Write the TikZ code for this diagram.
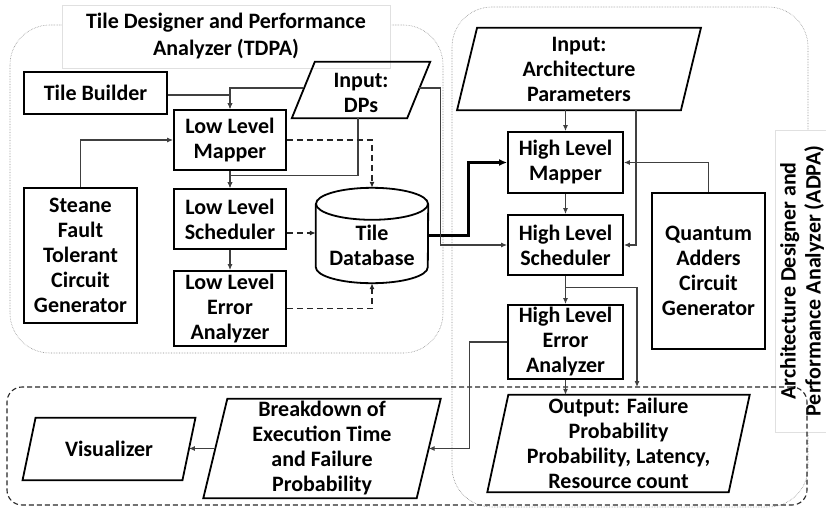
\documentclass[tikz,border=0pt]{standalone}
\usepackage{fontspec}
\setmainfont{Carlito}
\usetikzlibrary{arrows.meta,calc}

% outline of an input/output block drawn around a (borderless) rectangular node
\newcommand\slantbox[2]{%
  \draw[boxline] ($(#1.south west)+(-#2,0)$) -- ($(#1.north west)+(#2,0)$)
    -- ($(#1.north east)+(#2,0)$) -- ($(#1.south east)+(-#2,0)$) -- cycle;}

\begin{document}
\begin{tikzpicture}[x=1pt,y=-1pt,
  txt/.style={align=center, inner sep=0pt, font=\fontsize{22}{25}\selectfont\bfseries},
  box/.style={txt, draw=black, line width=1.8pt, fill=white},
  slanted/.style={txt, draw=none},
  boxline/.style={draw=black, line width=1.8pt, line join=miter},
  conn/.style={draw=black!75, line width=1.1pt, -{Latex[length=6pt,width=5pt]}},
  dconn/.style={conn, draw=black!85, line width=1.6pt, dash pattern=on 6pt off 4pt},
  bigconn/.style={draw=black, line width=2.6pt, -{Latex[length=8pt,width=7pt]}},
  group/.style={draw=black!45, line width=0.6pt, densely dotted, rounded corners=40pt},
  titlebox/.style={txt, draw=black!12, line width=0.6pt, fill=white}]

\useasboundingbox (0,0) rectangle (826,511);

% ---------- group outlines ----------
\draw[group] (10,25) rectangle (443,353);
\draw[group] (452,7) rectangle (808,507);

\node[titlebox, font=\fontsize{22}{27}\selectfont\bfseries,
      minimum width=328pt, minimum height=63pt] (tdpa) at (226,36.5)
  {Tile Designer and Performance\\Analyzer (TDPA)};
\node[titlebox, rotate=90, minimum width=302pt, minimum height=53pt] (adpa) at (802,281)
  {Architecture Designer and\\Performance Analyzer (ADPA)};

\node[draw=black!85, line width=1.1pt, dash pattern=on 5pt off 3pt, rounded corners=15pt,
      minimum width=800pt, minimum height=118pt, inner sep=0pt] (results) at (407,446) {};

% ---------- tile designer ----------
\node[box, minimum width=143pt, minimum height=42pt] (tb) at (95.5,93) {Tile Builder};
\node[slanted, minimum width=115pt, minimum height=56pt] (dps) at (361,90) {};
\node[txt] (dpslabel) at (361,93) {Input:\\DPs};
\slantbox{dps}{11.5}
\node[box, minimum width=112pt, minimum height=60pt] (llmap) at (230,140) {Low Level\\Mapper};
\node[box, minimum width=112pt, minimum height=60pt] (llsched) at (230,219) {Low Level\\Scheduler};
\node[box, minimum width=112pt, minimum height=75pt] (llerr) at (230,308.5) {Low Level\\Error\\Analyzer};
\node[box, minimum width=113pt, minimum height=135pt] (steane) at (80.5,255.5)
  {Steane\\Fault\\Tolerant\\Circuit\\Generator};

% tile database (cylinder)
\node[minimum width=112pt, minimum height=95pt, inner sep=0pt] (db) at (372,235.5) {};
\draw[boxline] ($(db.north)+(0,16)$) ellipse [x radius=56pt, y radius=16pt];
\draw[boxline] ($(db.north west)+(0,16)$) -- ($(db.south west)+(0,-16)$)
  arc[start angle=180, end angle=360, x radius=56pt, y radius=16pt]
  -- ($(db.north east)+(0,16)$);
\node[txt] (dblabel) at (372,245) {Tile\\Database};

% ---------- architecture designer ----------
\node[slanted, minimum width=223.5pt, minimum height=82pt] (arch) at (579,69)
  {Input:\\Architecture\\Parameters};
\slantbox{arch}{10}
\node[box, minimum width=115pt, minimum height=61pt] (hlmap) at (565.5,162.5) {High Level\\Mapper};
\node[box, minimum width=115pt, minimum height=60pt] (hlsched) at (565.5,245) {High Level\\Scheduler};
\node[box, minimum width=115pt, minimum height=74pt] (hlerr) at (565.5,342) {High Level\\Error\\Analyzer};
\node[box, minimum width=113pt, minimum height=156pt] (quantum) at (708.5,271)
  {Quantum\\Adders\\Circuit\\Generator};

% ---------- results ----------
\node[slanted, minimum width=241pt, minimum height=97pt] (output) at (618.5,443.5)
  {Output: Failure\\Probability\\Probability, Latency,\\Resource count};
\slantbox{output}{10.5}
\node[slanted, minimum width=213pt, minimum height=99pt] (breakdown) at (322,448.5)
  {Breakdown of\\Execution Time\\and Failure\\Probability};
\slantbox{breakdown}{12}
\node[slanted, minimum width=159.5pt, minimum height=62pt] (visualizer) at (109,449) {Visualizer};
\slantbox{visualizer}{6.5}

\coordinate (tap) at (637,387);

% ---------- connectors ----------
\draw[conn] ([yshift=-2pt]tb.east) -| (llmap.north);
\draw[conn] ([yshift=2pt]dps.west) -| (llmap.north);
\draw[conn] ([xshift=-3pt]dps.south) -- ++(0,57) -| (llsched.north);
\draw[conn] (llmap.south) -- (llsched.north);
\draw[conn] (llsched.south) -- (llerr.north);
\draw[conn] (steane.north) |- (llmap.west);
\draw[dconn] (llmap.east) -| (db.north);
\draw[dconn] ([yshift=-14pt]llsched.east) -- ([yshift=-14pt]llsched.east -| db.west);
\draw[dconn] (llerr.east) -| (db.south);

\draw[bigconn] (db.east) -- ++(40,0) |- (hlmap.west);
\draw[conn] ([yshift=2pt]dps.east) -- ++(21.5,0) |- (hlsched.west);
\draw[conn] (hlmap.north |- arch.south) -- (hlmap.north);
\draw[conn] ([xshift=57pt]arch.south) |- (hlsched.east);
\draw[conn] (quantum.north) |- (hlmap.east);
\draw[conn] (hlmap.south) -- (hlsched.north);
\draw[conn] (hlsched.south) -- (hlerr.north);
\draw[conn] ($(hlsched.south)+(0,12)$) -| (tap);
\draw[conn] (hlerr.south) -- (hlerr.south |- output.north);
\draw[conn] (hlerr.west) -- ++(-38,0) |- (breakdown.east);
\draw[conn] (breakdown.west) -- (breakdown.west -| visualizer.east);

\end{tikzpicture}
\end{document}
